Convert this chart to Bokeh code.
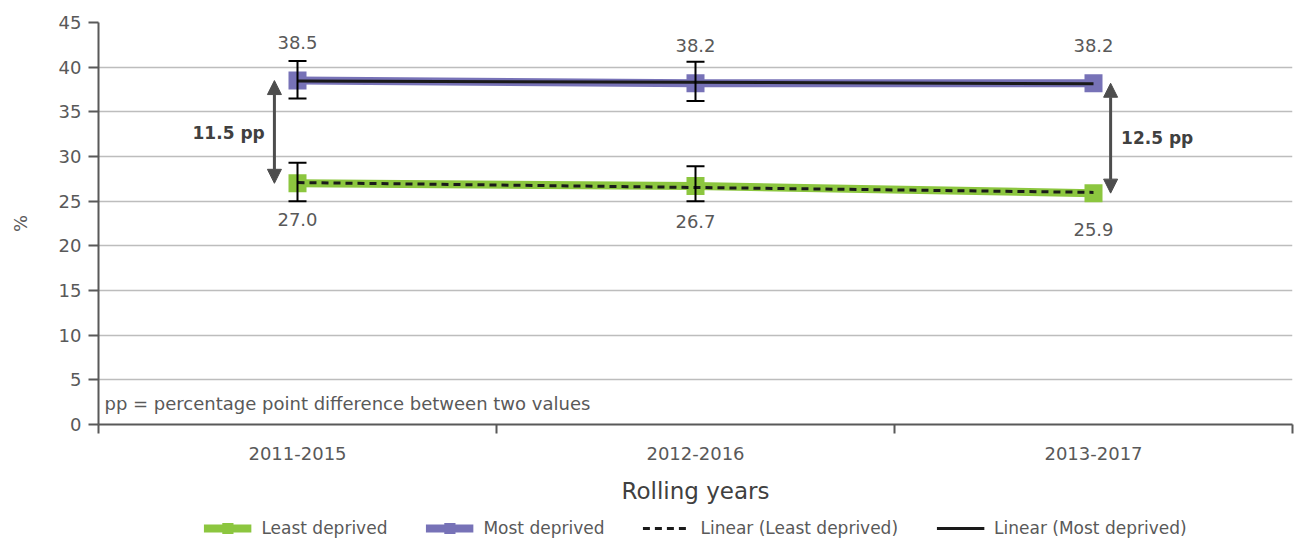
import numpy as np
from bokeh.plotting import figure
from bokeh.layouts import column
from bokeh.models import (Range1d, FixedTicker, ColumnDataSource, Whisker, TeeHead,
                          Arrow, NormalHead, Legend, LegendItem)
from bokeh.embed import file_html
from bokeh.resources import INLINE
from bokeh.core.properties import value

# ---------------- data ----------------
categories = ["2011-2015", "2012-2016", "2013-2017"]
least_deprived = [27.0, 26.7, 25.9]
most_deprived = [38.5, 38.2, 38.2]
least_err_lower = [25.0, 25.0]
least_err_upper = [29.3, 28.9]
most_err_lower = [36.5, 36.2]
most_err_upper = [40.7, 40.6]
gap_labels = ["11.5 pp", "12.5 pp"]
y_ticks = [0, 5, 10, 15, 20, 25, 30, 35, 40, 45]
note_text = "pp = percentage point difference between two values"
series_names = ["Least deprived", "Most deprived", "Linear (Least deprived)", "Linear (Most deprived)"]

# ---------------- styles ----------------
GREEN = "#8CC63F"
PURPLE = "#7772B7"
TXT = "#595959"
AXIS = "#595959"
GRID = "#BDBDBD"
FONT = "DejaVu Sans"

xs = [i + 0.5 for i in range(len(categories))]
xa = np.array(xs)
fit_l = np.polyval(np.polyfit(xa, least_deprived, 1), xa)
fit_m = np.polyval(np.polyfit(xa, most_deprived, 1), xa)

src = ColumnDataSource(dict(x=xs, least=least_deprived, most=most_deprived,
                            least_lbl=[f"{v:.1f}" for v in least_deprived],
                            most_lbl=[f"{v:.1f}" for v in most_deprived],
                            fit_l=fit_l, fit_m=fit_m))

p = figure(width=1294, height=514, x_range=Range1d(0, len(categories)), y_range=Range1d(0, 45),
           output_backend="svg", toolbar_location=None,
           min_border_left=98, min_border_right=2, min_border_top=22, min_border_bottom=90,
           background_fill_color="white", border_fill_color="white", outline_line_color=None)

# axes
p.yaxis.ticker = FixedTicker(ticks=y_ticks)
p.yaxis.axis_label = "%"
p.yaxis.axis_label_standoff = 25
p.yaxis.axis_label_text_font = FONT
p.yaxis.axis_label_text_font_style = "normal"
p.yaxis.axis_label_text_font_size = "18px"
p.yaxis.axis_label_text_color = TXT
p.yaxis.major_tick_out = 10
p.yaxis.major_tick_in = 0
p.yaxis.minor_tick_out = 0
p.yaxis.minor_tick_in = 0
p.yaxis.major_label_standoff = 7

p.xaxis.ticker = FixedTicker(ticks=xs, minor_ticks=[float(i) for i in range(len(categories) + 1)])
p.xaxis.major_label_overrides = {x: c for x, c in zip(xs, categories)}
p.xaxis.axis_label = "Rolling years"
p.xaxis.axis_label_text_font = FONT
p.xaxis.axis_label_text_font_style = "normal"
p.xaxis.axis_label_text_font_size = "23px"
p.xaxis.axis_label_text_color = "#404040"
p.xaxis.axis_label_standoff = 15
p.xaxis.major_tick_out = 0
p.xaxis.major_tick_in = 0
p.xaxis.minor_tick_out = 9
p.xaxis.minor_tick_in = 0
p.xaxis.major_label_standoff = 13

for ax in (p.xaxis, p.yaxis):
    ax.axis_line_color = AXIS
    ax.axis_line_width = 2
    ax.major_tick_line_color = AXIS
    ax.major_tick_line_width = 2
    ax.minor_tick_line_color = AXIS
    ax.minor_tick_line_width = 2
    ax.major_label_text_font = FONT
    ax.major_label_text_font_size = "18px"
    ax.major_label_text_color = TXT

p.xgrid.visible = False
p.ygrid.grid_line_color = GRID
p.ygrid.grid_line_width = 1.5

# series
p.line("x", "least", source=src, line_color=GREEN, line_width=8)
p.scatter("x", "least", source=src, marker="square", size=18, fill_color=GREEN, line_color=None)
p.line("x", "most", source=src, line_color=PURPLE, line_width=8)
p.scatter("x", "most", source=src, marker="square", size=18, fill_color=PURPLE, line_color=None)
p.line("x", "fit_l", source=src, line_color="#1A1A1A", line_width=3, line_dash="7 5")
p.line("x", "fit_m", source=src, line_color="#1A1A1A", line_width=3)

# error bars
for lo, hi in ((least_err_lower, least_err_upper), (most_err_lower, most_err_upper)):
    es = ColumnDataSource(dict(x=xs[:len(lo)], lower=lo, upper=hi))
    p.add_layout(Whisker(base="x", lower="lower", upper="upper", source=es, level="overlay",
                         line_color="black", line_width=2,
                         upper_head=TeeHead(size=18, line_color="black", line_width=2),
                         lower_head=TeeHead(size=18, line_color="black", line_width=2)))

# data labels
p.text("x", "most", text="most_lbl", source=src, y_offset=-38, text_align="center",
       text_baseline="middle", text_font=value(FONT), text_font_size="18px", text_color=TXT)
p.text("x", "least", text="least_lbl", source=src, y_offset=36, text_align="center",
       text_baseline="middle", text_font=value(FONT), text_font_size="18px", text_color=TXT)

# gap arrows
ARW = "#4D4D4D"
arrow_x = [xs[0] - 0.058, xs[2] + 0.043]
arrow_idx = [0, 2]
for ax_, i in zip(arrow_x, arrow_idx):
    p.add_layout(Arrow(x_start=ax_, y_start=least_deprived[i], x_end=ax_, y_end=most_deprived[i],
                       line_color=ARW, line_width=3,
                       start=NormalHead(size=14, fill_color=ARW, line_color=ARW),
                       end=NormalHead(size=14, fill_color=ARW, line_color=ARW)))

gap_src = ColumnDataSource(dict(x=[xs[0] - 0.173, xs[2] + 0.16], y=[32.6, 32.1], t=gap_labels))
p.text("x", "y", text="t", source=gap_src, text_align="center", text_baseline="middle",
       text_font=value(FONT), text_font_size="17px", text_font_style="bold", text_color="#404040")

# note
note_src = ColumnDataSource(dict(x=[0.015], y=[2.35], t=[note_text]))
p.text("x", "y", text="t", source=note_src, text_align="left", text_baseline="middle",
       text_font=value(FONT), text_font_size="18px", text_color=TXT)

# legend strip (separate small figure; its renderers use the same data, kept out of view)
lf = figure(width=1294, height=28, x_range=Range1d(100, 101), y_range=Range1d(100, 101),
            output_backend="svg", toolbar_location=None,
            min_border_left=0, min_border_right=0, min_border_top=0, min_border_bottom=0,
            background_fill_color="white", border_fill_color="white", outline_line_color=None)
lf.axis.visible = False
lf.grid.visible = False
l1 = lf.line("x", "least", source=src, line_color=GREEN, line_width=8)
s1 = lf.scatter("x", "least", source=src, marker="square", size=18, fill_color=GREEN, line_color=None)
l2 = lf.line("x", "most", source=src, line_color=PURPLE, line_width=8)
s2 = lf.scatter("x", "most", source=src, marker="square", size=18, fill_color=PURPLE, line_color=None)
l3 = lf.line("x", "fit_l", source=src, line_color="#1A1A1A", line_width=3, line_dash="7 5")
l4 = lf.line("x", "fit_m", source=src, line_color="#1A1A1A", line_width=3)
legend = Legend(items=[
    LegendItem(label=series_names[0], renderers=[l1, s1]),
    LegendItem(label=series_names[1], renderers=[l2, s2]),
    LegendItem(label=series_names[2], renderers=[l3]),
    LegendItem(label=series_names[3], renderers=[l4]),
], orientation="horizontal", location="center", margin=0, padding=0,
    glyph_width=48, glyph_height=28, label_standoff=10, spacing=38,
    label_text_font=FONT, label_text_font_size="17px", label_text_color=TXT,
    border_line_color=None, background_fill_alpha=0)
lf.add_layout(legend)

layout = column(p, lf, spacing=0)
open("out.html", "w").write(file_html(layout, INLINE))
